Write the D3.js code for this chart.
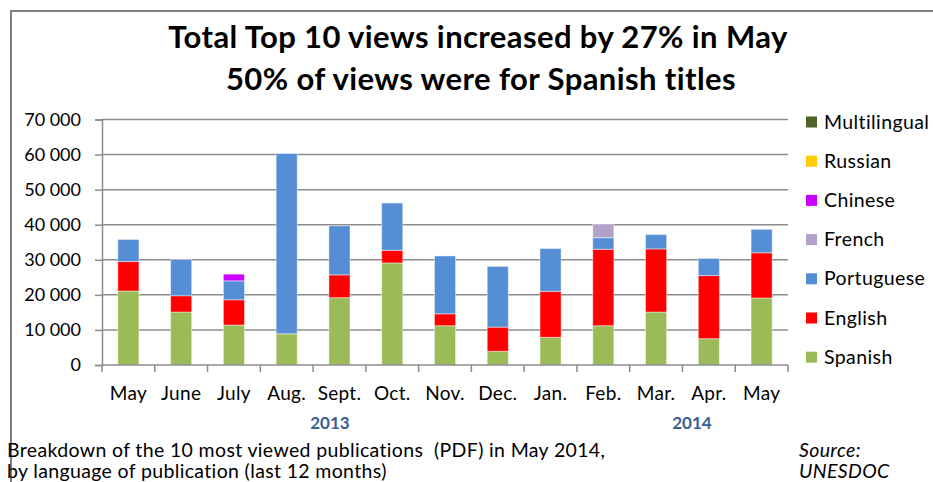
<!DOCTYPE html>
<html><head><meta charset="utf-8">
<script src="https://cdn.jsdelivr.net/npm/d3@7"></script>
<style>body{margin:0;background:#fff}svg{display:block}text{font-family:Lato,"Open Sans",sans-serif}</style>
</head><body><svg id="c" width="933" height="482"></svg>
<script>
const months = ["May","June","July","Aug.","Sept.","Oct.","Nov.","Dec.","Jan.","Feb.","Mar.","Apr.","May"];
const spanish    = [21100,15100,11400,8900,19200,29100,11200,3900,7900,11200,15100,7500,19100];
const english    = [8400,4650,7200,0,6500,3600,3400,6900,13100,21800,18000,18000,12900];
const portuguese = [6300,10350,5400,51400,14000,13500,16500,17300,12200,3300,4100,4900,6700];
const french     = [0,0,0,0,0,0,0,0,0,3900,0,0,0];
const chinese    = [0,0,1900,0,0,0,0,0,0,0,0,0,0];
const russian    = [0,0,0,0,0,0,0,0,0,0,0,0,0];
const multilingual=[0,0,0,0,0,0,0,0,0,0,0,0,0];
const seriesNames = ["Spanish","English","Portuguese","French","Chinese","Russian","Multilingual"];
const seriesColors = ["#9BBB59","#FF0000","#558ED5","#B3A2C7","#CC00FF","#FFCC00","#4F6228"];
const yTicks = [0,10000,20000,30000,40000,50000,60000,70000];
const years = [{label:"2013", at:4.32},{label:"2014", at:11.18}];

const svg = d3.select("#c");
const values = [spanish,english,portuguese,french,chinese,russian,multilingual];
const rows = months.map((m,i)=>{const r={idx:i}; seriesNames.forEach((s,j)=>r[s]=values[j][i]); return r;});
const stack = d3.stack().keys(seriesNames)(rows);

const x = d3.scaleBand().domain(d3.range(months.length)).range([102,788]).paddingInner(0.6).paddingOuter(0.3);
const xl = d3.scaleLinear().domain([0,months.length]).range([102,788]);
const y = d3.scaleLinear().domain([0,70000]).range([365,119.5]);

// border
svg.append("path").attr("d","M11,482V11H933").attr("fill","none").attr("stroke","#7f7f7f").attr("stroke-width",2);

// title
const t = svg.append("text").attr("text-anchor","middle").attr("font-weight","bold").attr("font-size",31)
  .attr("letter-spacing",0.4).attr("fill","#000");
t.append("tspan").attr("x",478).attr("y",48).text("Total Top 10 views increased by 27% in May");
t.append("tspan").attr("x",481).attr("y",90).text("50% of views were for Spanish titles");

// gridlines
svg.append("g").selectAll("line").data(yTicks.slice(1)).join("line")
  .attr("x1",102).attr("x2",788).attr("y1",d=>y(d)).attr("y2",d=>y(d))
  .attr("stroke","#8c8c8c").attr("stroke-width",1.5);

// y axis
const fmt = d=> d===0?"0":d3.format(",")(d).replace(/,/g," ");
const ya = svg.append("g").attr("transform","translate(102,0)")
  .call(d3.axisLeft(y).tickValues(yTicks).tickFormat(fmt).tickSize(7).tickPadding(14));
ya.select(".domain").attr("stroke","#8c8c8c").attr("stroke-width",1.5);
ya.selectAll(".tick line").attr("stroke","#8c8c8c").attr("stroke-width",1.5);
ya.selectAll("text").attr("font-size",18).attr("fill","#000").attr("font-family","Lato");

// bars
svg.append("g").selectAll("g").data(stack).join("g")
  .attr("fill",(d,i)=>seriesColors[i])
  .selectAll("rect").data(d=>d.filter(p=>p[1]-p[0]>0)).join("rect")
  .attr("x",d=>x(d.data.idx)).attr("width",x.bandwidth())
  .attr("y",d=>y(d[1])).attr("height",d=>y(d[0])-y(d[1]))
  .attr("stroke","rgba(255,255,255,0.45)").attr("stroke-width",1);

// x axis
svg.append("line").attr("x1",102).attr("x2",788).attr("y1",365).attr("y2",365).attr("stroke","#8c8c8c").attr("stroke-width",1.5);
svg.append("g").selectAll("line").data(d3.range(months.length+1)).join("line")
  .attr("x1",d=>xl(d)).attr("x2",d=>xl(d)).attr("y1",365).attr("y2",372)
  .attr("stroke","#8c8c8c").attr("stroke-width",1.5);
svg.append("g").selectAll("text").data(months).join("text")
  .attr("x",(d,i)=>xl(i+0.5)).attr("y",400).attr("text-anchor","middle")
  .attr("font-size",19).attr("letter-spacing",0.3).attr("fill","#000").text(d=>d);
svg.append("g").selectAll("text").data(years).join("text")
  .attr("x",d=>xl(d.at)).attr("y",429).attr("text-anchor","middle")
  .attr("font-size",17).attr("font-weight","bold").attr("fill","#376092").text(d=>d.label);

// legend
const lg = svg.append("g").selectAll("g").data(seriesNames.slice().reverse()).join("g")
  .attr("transform",(d,i)=>`translate(806,${122+i*39.2})`);
lg.append("rect").attr("x",0).attr("y",-5.5).attr("width",11).attr("height",11)
  .attr("fill",d=>seriesColors[seriesNames.indexOf(d)]);
lg.append("text").attr("x",18).attr("y",6.5).attr("font-size",19.5).attr("letter-spacing",0.4).attr("fill","#000").text(d=>d);

// footer
const f = svg.append("text").attr("font-size",19.5).attr("letter-spacing",0.35).attr("fill","#000").attr("style","white-space:pre");
f.append("tspan").attr("x",7).attr("y",457).text("Breakdown of the 10 most viewed publications  (PDF) in May 2014,");
f.append("tspan").attr("x",7).attr("y",478).text("by language of publication (last 12 months)");
const s = svg.append("text").attr("font-size",19.5).attr("letter-spacing",0.35).attr("font-style","italic").attr("fill","#000");
s.append("tspan").attr("x",799).attr("y",457).text("Source:");
s.append("tspan").attr("x",799).attr("y",478).text("UNESDOC");
</script></body></html>
